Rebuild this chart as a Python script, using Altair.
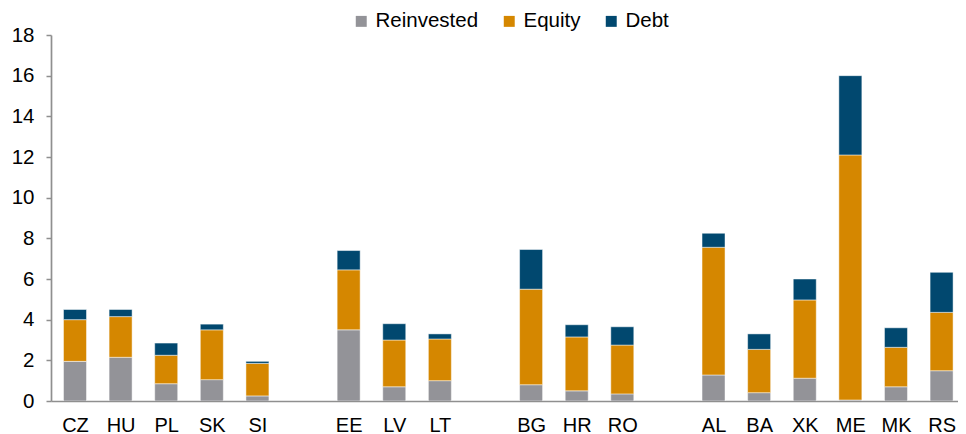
import altair as alt
import pandas as pd

groups = [["CZ", "HU", "PL", "SK", "SI"], ["EE", "LV", "LT"], ["BG", "HR", "RO"],
          ["AL", "BA", "XK", "ME", "MK", "RS"]]
categories = [c for g in groups for c in g]
reinvested = [1.95, 2.15, 0.85, 1.05, 0.25, 3.5, 0.7, 1.0, 0.8, 0.5, 0.35, 1.28, 0.41, 1.12, 0.05, 0.7, 1.49]
equity = [2.05, 2.0, 1.4, 2.45, 1.6, 2.95, 2.3, 2.05, 4.7, 2.65, 2.4, 6.28, 2.13, 3.85, 12.05, 1.94, 2.87]
debt = [0.5, 0.35, 0.6, 0.28, 0.1, 0.95, 0.8, 0.25, 1.95, 0.6, 0.9, 0.69, 0.76, 1.03, 3.9, 0.96, 1.97]
series = ["Reinvested", "Equity", "Debt"]
colors = ["#939398", "#d58700", "#01486f"]
y_ticks = list(range(0, 19, 2))

# slot index: one empty slot between groups
slots = []
s = 0
for gi, g in enumerate(groups):
    for c in g:
        slots.append(s)
        s += 1
    s += 1

rows = []
for i, c in enumerate(categories):
    for k, (name, vals) in enumerate(zip(series, [reinvested, equity, debt])):
        rows.append({"cat": c, "slot": slots[i], "series": name, "ord": k, "value": vals[i]})
df = pd.DataFrame(rows)

label_map = "{" + ",".join(f"'{sl}':'{c}'" for sl, c in zip(slots, categories)) + "}"
FONT = "Liberation Sans"

chart = alt.Chart(df).mark_bar(width=23, stroke="#ffffff", strokeWidth=0.8, strokeOpacity=0.6, clip=True).encode(
    x=alt.X("slot:Q", scale=alt.Scale(domain=[-0.526, 19.36], nice=False, zero=False, padding=0),
            axis=alt.Axis(values=slots, labelExpr=f"{label_map}[datum.value]", title=None, grid=False,
                          ticks=False, labelPadding=14, labelFontSize=20, labelFlush=False,
                          labelOverlap=False, labelColor="#000000", labelFont=FONT,
                          domainColor="#8f8f8f", domainWidth=1.7)),
    y=alt.Y("value:Q", stack="zero", scale=alt.Scale(domain=[0, 18], nice=False),
            axis=alt.Axis(values=y_ticks, title=None, grid=False, tickSize=5, tickColor="#8f8f8f",
                          tickWidth=1.5, labelPadding=12, labelFontSize=20.5, labelColor="#000000",
                          labelFont=FONT, domainColor="#8f8f8f", domainWidth=1.7)),
    color=alt.Color("series:N", scale=alt.Scale(domain=series, range=colors),
                    legend=alt.Legend(title=None, orient="none", direction="horizontal",
                                      legendX=300, legendY=-24, symbolType="square", symbolSize=120,
                                      symbolStrokeWidth=0, labelFontSize=20.5, labelFont=FONT,
                                      labelColor="#000000", columnPadding=20, labelOffset=4)),
    order=alt.Order("ord:Q"),
).properties(
    width=907, height=366,
    autosize=alt.AutoSizeParams(type="none"),
    padding={"left": 43, "top": 27, "right": 0, "bottom": 33},
).configure_view(stroke=None)

chart.save("out.html", embed_options={"renderer": "svg", "actions": False})
